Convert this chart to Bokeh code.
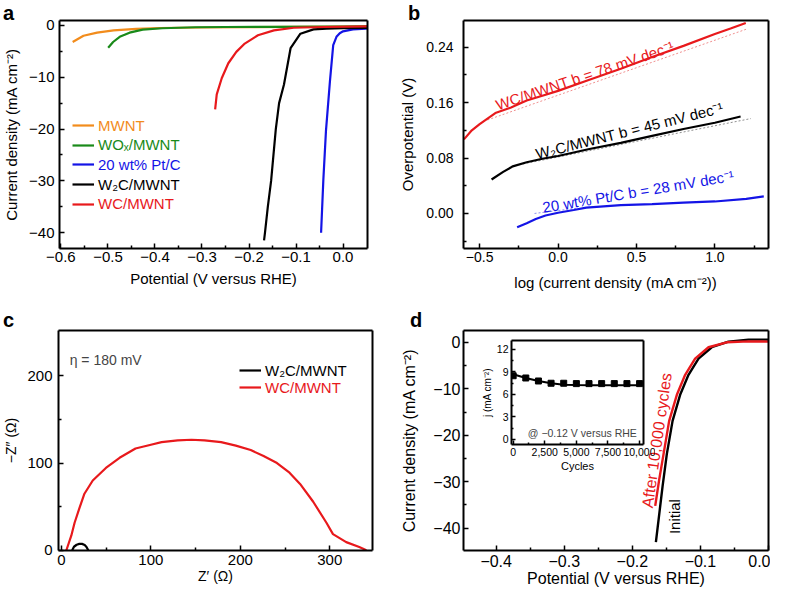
from bokeh.plotting import figure
from bokeh.layouts import column, row
from bokeh.models import (Legend, LegendItem, Label, FixedTicker, LinearAxis, Div,
                          CustomJSTickFormatter, NumeralTickFormatter, Range1d)
from bokeh.embed import file_html
from bokeh.resources import INLINE

FONT = "Liberation Sans"

# ---------------- data ----------------
# panel a : polarization curves
a_mwnt_x = [-0.575, -0.552, -0.523, -0.488, -0.44, -0.39, -0.35, -0.30, -0.20, -0.10, 0.0, 0.052]
a_mwnt_y = [-3.2, -2.0, -1.4, -0.95, -0.67, -0.5, -0.45, -0.4, -0.32, -0.27, -0.22, -0.2]
a_wox_x = [-0.4995, -0.489, -0.475, -0.454, -0.426, -0.384, -0.314, -0.25, -0.15, 0.0, 0.052]
a_wox_y = [-4.3, -3.2, -2.2, -1.4, -0.8, -0.55, -0.35, -0.3, -0.27, -0.22, -0.2]
a_pt_x = [-0.0467, -0.0419, -0.0363, -0.0279, -0.0209, -0.014, -0.007, 0.0, 0.021, 0.049, 0.052]
a_pt_y = [-40.0, -29.8, -20.3, -10.8, -3.8, -2.2, -1.5, -1.14, -0.76, -0.63, -0.62]
a_w2c_x = [-0.168, -0.166, -0.160, -0.153, -0.143, -0.136, -0.1256, -0.1116, -0.0907, -0.0628, -0.035, 0.0, 0.052]
a_w2c_y = [-41.5, -40.0, -35.0, -30.0, -20.0, -15.0, -11.4, -4.4, -1.6, -0.76, -0.63, -0.55, -0.5]
a_wc_x = [-0.272, -0.2686, -0.258, -0.244, -0.227, -0.209, -0.181, -0.147, -0.105, -0.04, 0.052]
a_wc_y = [-16.2, -13.3, -10.2, -7.3, -5.1, -3.5, -1.9, -0.95, -0.45, -0.3, -0.2]
a_labels = ["MWNT", "WOₓ/MWNT", "20 wt% Pt/C", "W₂C/MWNT", "WC/MWNT"]

# panel b : Tafel plots
b_wc_x = [-0.60, -0.55, -0.50, -0.45, -0.40, -0.30, -0.20, -0.10, 0.0, 0.2, 0.4, 0.6, 0.8, 1.0, 1.1, 1.197]
b_wc_y = [0.107, 0.120, 0.129, 0.137, 0.145, 0.153, 0.163, 0.170, 0.177, 0.193, 0.209, 0.226, 0.242, 0.259, 0.267, 0.275]
b_w2c_x = [-0.424, -0.35, -0.289, -0.2, -0.1, 0.0, 0.2, 0.4, 0.6, 0.8, 1.0, 1.164]
b_w2c_y = [0.049, 0.060, 0.068, 0.074, 0.079, 0.083, 0.093, 0.102, 0.112, 0.122, 0.131, 0.140]
b_pt_x = [-0.261, -0.2, -0.142, -0.08, 0.0, 0.1, 0.18, 0.4, 0.6, 0.8, 1.0, 1.2, 1.312]
b_pt_y = [-0.020, -0.014, -0.008, -0.003, 0.001, 0.005, 0.0085, 0.012, 0.0135, 0.0155, 0.0173, 0.021, 0.0246]
b_wc_fit_x = [-0.45, 1.2]
b_wc_fit_y = [0.135, 0.266]
b_w2c_fit_x = [-0.30, 1.23]
b_w2c_fit_y = [0.068, 0.137]
b_pt_fit_x = [-0.15, 0.12]
b_pt_fit_y = [0.000, 0.0076]
b_texts = ["WC/MWNT b = 78 mV dec⁻¹", "W₂C/MWNT b = 45 mV dec⁻¹", "20 wt% Pt/C b = 28 mV dec⁻¹"]

# panel c : Nyquist plots
c_wc_x = [5.5, 11.0, 14.7, 20.0, 25.7, 35.0, 49.7, 65.0, 82.8, 100.0, 112.0, 130.0, 145.4, 160.0,
          178.5, 195.0, 211.6, 226.0, 241.0, 255.0, 266.8, 281.5, 296.3, 303.6, 318.4, 333.0, 341.0]
c_wc_y = [0.0, 16.7, 31.5, 48.0, 64.8, 80.0, 94.4, 106.0, 116.7, 121.0, 124.0, 126.0, 126.7, 126.0,
          124.0, 120.0, 114.9, 108.0, 100.0, 89.0, 76.0, 55.6, 31.5, 18.5, 9.3, 3.7, 0.0]
c_w2c_x = [12, 14, 17, 20, 23, 26, 28, 30]
c_w2c_y = [0.0, 4.0, 6.3, 7.3, 7.3, 6.0, 3.8, 0.0]
c_labels = ["W₂C/MWNT", "WC/MWNT"]

# panel d : stability
d_init_x = [-0.1654, -0.1614, -0.1556, -0.1493, -0.1409, -0.1298, -0.1175, -0.1028, -0.0833, -0.0588, -0.0295, 0.0]
d_init_y = [-43.0, -38.1, -31.0, -24.0, -16.9, -11.3, -7.0, -3.5, -1.06, 0.15, 0.57, 0.57]
d_after_x = [-0.1664, -0.1606, -0.1541, -0.1459, -0.1346, -0.1224, -0.1078, -0.0881, -0.0613, -0.0295, 0.0]
d_after_y = [-35.2, -29.6, -24.0, -16.9, -11.3, -7.0, -3.5, -1.06, 0.0, 0.2, 0.15]
inset_cycles = [0, 1000, 2000, 3000, 4000, 5000, 6000, 7000, 8000, 9000, 10000]
inset_j = [8.5, 8.2, 7.8, 7.5, 7.5, 7.45, 7.45, 7.45, 7.45, 7.45, 7.45]
inset_fit_x = [0, 1000, 2000, 3000, 4000, 5000, 6000, 8000, 10000]
inset_fit_y = [8.7, 8.2, 7.8, 7.5, 7.3, 7.25, 7.22, 7.22, 7.22]

# colours
ORANGE = "#f28c1c"
GREEN = "#198a19"
BLUE = "#1414e6"
BLACK = "#000000"
RED = "#e8191c"


def border_axis():
    return LinearAxis(ticker=FixedTicker(ticks=[], minor_ticks=[]), axis_line_color="black",
                      axis_line_width=2, major_tick_in=0, major_tick_out=0, minor_tick_in=0,
                      minor_tick_out=0, major_label_standoff=0)


def make_fig(w, h, xr, yr, bl, br, bt, bb, tick_size, label_size, styles=None):
    kw = {}
    if styles:
        kw["styles"] = styles
    p = figure(width=w, height=h, x_range=Range1d(*xr), y_range=Range1d(*yr),
               output_backend="svg", toolbar_location=None,
               min_border_left=bl, min_border_right=br, min_border_top=bt, min_border_bottom=bb, **kw)
    p.grid.visible = False
    p.outline_line_color = None
    p.background_fill_color = "white"
    p.border_fill_color = "white"
    xa = p.below[0]
    ya = p.left[0]
    for ax in (xa, ya):
        ax.axis_line_color = "black"
        ax.axis_line_width = 2
        ax.major_tick_in = 5
        ax.major_tick_out = 0
        ax.minor_tick_in = 3
        ax.minor_tick_out = 0
        ax.major_tick_line_width = 1.5
        ax.minor_tick_line_width = 1.5
        ax.major_label_text_font = FONT
        ax.major_label_text_font_size = tick_size
        ax.major_label_text_color = "black"
        ax.axis_label_text_font = FONT
        ax.axis_label_text_font_size = label_size
        ax.axis_label_text_font_style = "normal"
        ax.axis_label_text_color = "black"
    p.add_layout(border_axis(), "above")
    p.add_layout(border_axis(), "right")
    return p, xa, ya


def fmt(decimals):
    return CustomJSTickFormatter(code="return tick.toFixed(%d).replace('-', '\u2212')" % decimals)


def letter(text, left, top):
    return Div(text=text, width=16, height=22, margin=(0, 0, 0, 0),
               styles={"position": "absolute", "left": "%dpx" % left, "top": "%dpx" % top,
                       "font-family": FONT, "font-weight": "bold", "font-size": "20px",
                       "line-height": "20px", "margin": "0px", "padding": "0px", "overflow": "hidden"})


def one_legend(p, r, text, color, x, y, size):
    lg = Legend(items=[LegendItem(label=text, renderers=[r])], location=(x, y),
                background_fill_alpha=0, border_line_alpha=0, padding=0, margin=0, spacing=0,
                glyph_width=22, glyph_height=20, label_height=20, label_standoff=4,
                label_text_color=color, label_text_font=FONT, label_text_font_size=size)
    p.add_layout(lg)


# ---------------- panel a ----------------
pa, ax_x, ax_y = make_fig(385, 293, (-0.603, 0.052), (-43.05, 0.95), 54, 18, 17, 45, "15px", "15px")
ax_x.ticker = FixedTicker(ticks=[-0.6, -0.5, -0.4, -0.3, -0.2, -0.1, 0.0],
                          minor_ticks=[-0.55, -0.45, -0.35, -0.25, -0.15, -0.05])
ax_y.ticker = FixedTicker(ticks=[-40, -30, -20, -10, 0], minor_ticks=[-35, -25, -15, -5])
ax_x.formatter = fmt(1)
ax_y.formatter = fmt(0)
ax_x.major_label_standoff = 3
ax_x.axis_label_standoff = 5
ax_y.major_label_standoff = 5
ax_y.axis_label_standoff = 6
ax_x.axis_label = "Potential (V versus RHE)"
ax_y.axis_label = "Current density (mA cm⁻²)"
ra = []
for xs, ys, c in [(a_mwnt_x, a_mwnt_y, ORANGE), (a_wox_x, a_wox_y, GREEN), (a_pt_x, a_pt_y, BLUE),
                  (a_w2c_x, a_w2c_y, BLACK), (a_wc_x, a_wc_y, RED)]:
    ra.append(pa.line(xs, ys, line_color=c, line_width=2.2))
for i, (lab, c) in enumerate(zip(a_labels, [ORANGE, GREEN, BLUE, BLACK, RED])):
    one_legend(pa, ra[i], lab, c, 13, 113 - 19.7 * i, "15px")

# ---------------- panel b ----------------
pb, bx, by = make_fig(385, 293, (-0.603, 1.342), (-0.0506, 0.2786), 78, 2, 20, 45, "14px", "15px")
bx.ticker = FixedTicker(ticks=[-0.5, 0.0, 0.5, 1.0], minor_ticks=[-0.25, 0.25, 0.75, 1.25])
by.ticker = FixedTicker(ticks=[0.0, 0.08, 0.16, 0.24], minor_ticks=[-0.04, 0.04, 0.12, 0.20])
bx.formatter = fmt(1)
by.formatter = fmt(2)
bx.major_label_standoff = 3
bx.axis_label_standoff = 9
by.major_label_standoff = 10
by.axis_label_standoff = 7
bx.axis_label = "log (current density (mA cm⁻²))"
by.axis_label = "Overpotential (V)"
pb.line(b_wc_fit_x, b_wc_fit_y, line_color="#f09090", line_width=1, line_dash="2 2")
pb.line(b_w2c_fit_x, b_w2c_fit_y, line_color="#909090", line_width=1, line_dash="2 2")
pb.line(b_pt_fit_x, b_pt_fit_y, line_color="#9090f0", line_width=1, line_dash="2 2")
pb.line(b_wc_x, b_wc_y, line_color=RED, line_width=2.2)
pb.line(b_w2c_x, b_w2c_y, line_color=BLACK, line_width=2.2)
pb.line(b_pt_x, b_pt_y, line_color=BLUE, line_width=2.2)
for txt, c, x, y, ang in [(b_texts[0], RED, -0.394, 0.156, 0.325),
                          (b_texts[1], BLACK, -0.141, 0.086, 0.245),
                          (b_texts[2], BLUE, -0.098, 0.0087, 0.166)]:
    pb.add_layout(Label(x=x, y=y, text=txt, angle=ang, text_color=c, text_font=FONT,
                        text_font_size="15px", text_align="left", text_baseline="alphabetic"))

# ---------------- panel c ----------------
pc, cx, cy = make_fig(385, 296, (-3.3, 347.8), (-0.3, 252), 54, 13, 34, 36, "15px", "14px")
cx.ticker = FixedTicker(ticks=[0, 100, 200, 300], minor_ticks=[50, 150, 250])
cy.ticker = FixedTicker(ticks=[0, 100, 200], minor_ticks=[50, 150])
cx.formatter = fmt(0)
cy.formatter = fmt(0)
cx.major_label_standoff = 4
cx.axis_label_standoff = 0
cy.major_label_standoff = 6
cy.axis_label_standoff = 5
cx.axis_label = "Z′ (Ω)"
cy.axis_label = "−Z″ (Ω)"
rc_b = pc.line(c_w2c_x, c_w2c_y, line_color=BLACK, line_width=2.2)
rc_r = pc.line(c_wc_x, c_wc_y, line_color=RED, line_width=2.2)
one_legend(pc, rc_b, c_labels[0], BLACK, 181, 170, "15px")
one_legend(pc, rc_r, c_labels[1], RED, 181, 153, "15px")
pc.add_layout(Label(x=9.2, y=218, text="η = 180 mV", text_font=FONT, text_font_size="14px",
                    text_baseline="alphabetic"))

# ---------------- panel d ----------------
pd, dx, dy = make_fig(385, 296, (-0.448, 0.0), (-44.8, 2.54), 78, 2, 37, 36, "16px", "16px")
dx.ticker = FixedTicker(ticks=[-0.4, -0.3, -0.2, -0.1, 0.0],
                        minor_ticks=[-0.35, -0.25, -0.15, -0.05])
dy.ticker = FixedTicker(ticks=[-40, -30, -20, -10, 0], minor_ticks=[-35, -25, -15, -5])
dx.formatter = fmt(1)
dy.formatter = fmt(0)
dx.major_label_standoff = 4
dx.axis_label_standoff = 0
dy.major_label_standoff = 3
dy.axis_label_standoff = 12
dx.axis_label = "Potential (V versus RHE)"
dy.axis_label = "Current density (mA cm⁻²)"
pd.line(d_init_x, d_init_y, line_color=BLACK, line_width=2.4)
pd.line(d_after_x, d_after_y, line_color=RED, line_width=2.4)
pd.add_layout(Label(x=-0.164, y=-21.1, text="After 10,000 cycles", angle=1.429, text_color=RED,
                    text_font=FONT, text_font_size="16px", text_align="center", text_baseline="middle"))
pd.add_layout(Label(x=-0.1386, y=-37.5, text="Initial", angle=1.5708, text_color=BLACK,
                    text_font=FONT, text_font_size="15px", text_align="center", text_baseline="middle"))

# ---------------- inset (absolutely positioned over panel d) ----------------
pi, ix, iy = make_fig(177, 138, (-130, 10310), (-0.67, 13.2), 30, 12, 2, 32, "10.5px", "11px",
                      styles={"position": "absolute", "left": "478px", "top": "338px"})
ix.ticker = FixedTicker(ticks=[0, 2500, 5000, 7500, 10000], minor_ticks=[1250, 3750, 6250, 8750])
iy.ticker = FixedTicker(ticks=[0, 3, 6, 9, 12], minor_ticks=[1.5, 4.5, 7.5, 10.5])
ix.formatter = NumeralTickFormatter(format="0,0")
iy.formatter = fmt(0)
for ax in (ix, iy):
    ax.major_tick_in = 4
    ax.minor_tick_in = 2
    ax.major_label_standoff = 3
    ax.axis_label_standoff = 1
iy.axis_label_text_font_size = "10px"
ix.axis_label = "Cycles"
iy.axis_label = "j (mA cm⁻²)"
pi.border_fill_alpha = 0
pi.line(inset_fit_x, inset_fit_y, line_color=BLACK, line_width=2)
pi.scatter(inset_cycles, inset_j, marker="square", size=6, fill_color=BLACK, line_color=BLACK)
pi.add_layout(Label(x=1160, y=0.9, text="@ −0.12 V versus RHE", text_font=FONT,
                    text_font_size="10.5px", text_baseline="alphabetic"))

main = column(row(pa, pb), row(pc, pd))
roots = [main, pi, letter("a", 3, 3), letter("b", 408, 3), letter("c", 3, 310), letter("d", 410, 310)]

open("out.html", "w").write(file_html(roots, INLINE))
